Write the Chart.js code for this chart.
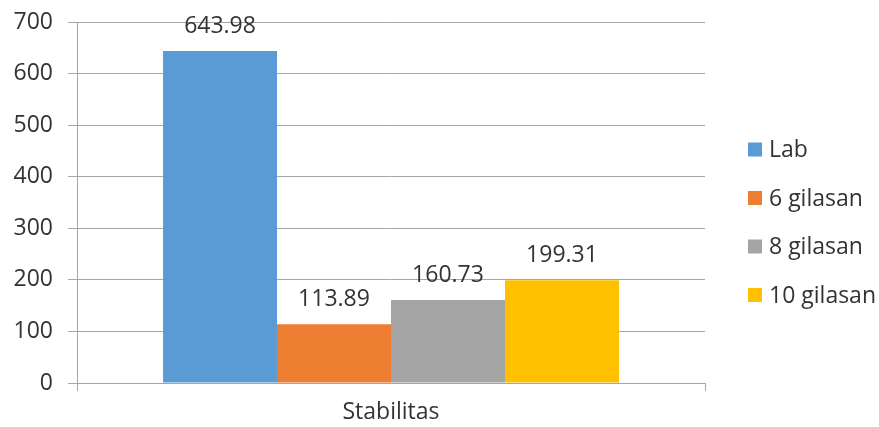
<!DOCTYPE html>
<html>
<head>
<meta charset="utf-8">
<script src="https://cdn.jsdelivr.net/npm/chart.js@4.4.1/dist/chart.umd.min.js"></script>
<style>
  html, body { margin: 0; padding: 0; background: #fff; }
  #wrap { width: 879px; height: 427px; }
</style>
</head>
<body>
<div id="wrap"><canvas id="chart"></canvas></div>
<script>
"use strict"

// one category, one bar per series
const categories = ['Stabilitas'];
const seriesNames = ['Lab', '6 gilasan', '8 gilasan', '10 gilasan'];
const seriesValues = [[643.98], [113.89], [160.73], [199.31]];
const seriesColors = ['#5B9BD5', '#ED7D31', '#A5A5A5', '#FFC000'];
const yTicks = [0, 100, 200, 300, 400, 500, 600, 700];

const strFont = '"Open Sans", sans-serif';
const strText = '#333333';
const strGrid = '#a6a6a6';
const intFontSize = 23;

// value printed above each bar
const valueLabels = {
    id: 'valueLabels',
    afterDatasetsDraw(chart){
        const ctx = chart.ctx;
        ctx.save();
        ctx.font = intFontSize + 'px ' + strFont;
        ctx.fillStyle = strText;
        ctx.textAlign = 'center';
        ctx.textBaseline = 'alphabetic';
        chart.data.datasets.forEach(function(ds, i){
            const meta = chart.getDatasetMeta(i);
            meta.data.forEach(function(bar, j){
                ctx.fillText(ds.data[j].toFixed(2), bar.x, bar.y - 18);
            });
        });
        ctx.restore();
    }
};

// legend to the right of the plot, square swatches
const sideLegend = {
    id: 'sideLegend',
    afterDraw(chart){
        const ctx = chart.ctx;
        const x = chart.chartArea.right + 43;
        const yFirst = 149.5;
        const step = 48.5;
        ctx.save();
        ctx.font = intFontSize + 'px ' + strFont;
        ctx.textBaseline = 'middle';
        chart.data.datasets.forEach(function(ds, i){
            const y = yFirst + i * step;
            ctx.fillStyle = ds.backgroundColor;
            ctx.fillRect(x, y - 7, 14, 14);
            ctx.fillStyle = strText;
            ctx.fillText(ds.label, x + 21, y + 1);
        });
        ctx.restore();
    }
};

const chart = new Chart('chart', {
    type: 'bar',
    data: {
        labels: categories,
        datasets: seriesNames.map(function(name, i){
            return {
                label: name,
                data: seriesValues[i],
                backgroundColor: seriesColors[i],
                borderWidth: 0,
                categoryPercentage: 0.726,
                barPercentage: 1
            };
        })
    },
    plugins: [valueLabels, sideLegend],
    options: {
        responsive: true,
        maintainAspectRatio: false,
        animation: false,
        events: [],
        layout: { padding: { top: 22, right: 174, bottom: 0, left: 0 } },
        plugins: {
            legend: { display: false },
            tooltip: { enabled: false }
        },
        scales: {
            x: {
                offset: true,
                afterFit(scale){ scale.height = 44; },
                grid: {
                    offset: true,
                    drawOnChartArea: false,
                    drawTicks: true,
                    tickLength: 8,
                    color: strGrid
                },
                border: { display: true, color: strGrid, width: 1 },
                ticks: {
                    color: strText,
                    font: { family: strFont, size: intFontSize },
                    padding: 8
                }
            },
            y: {
                min: 0,
                max: 700,
                afterFit(scale){
                    scale.width = 77;
                    // tick padding is only meant sideways here
                    scale.paddingTop = 12;
                    scale.paddingBottom = 12;
                },
                afterBuildTicks(scale){
                    scale.ticks = yTicks.map(function(v){ return { value: v }; });
                },
                grid: {
                    color: strGrid,
                    lineWidth: 1,
                    drawTicks: true,
                    tickLength: 9
                },
                border: { display: true, color: strGrid, width: 1 },
                ticks: {
                    color: strText,
                    font: { family: strFont, size: intFontSize },
                    padding: 15
                }
            }
        }
    }
});
</script>
</body>
</html>
